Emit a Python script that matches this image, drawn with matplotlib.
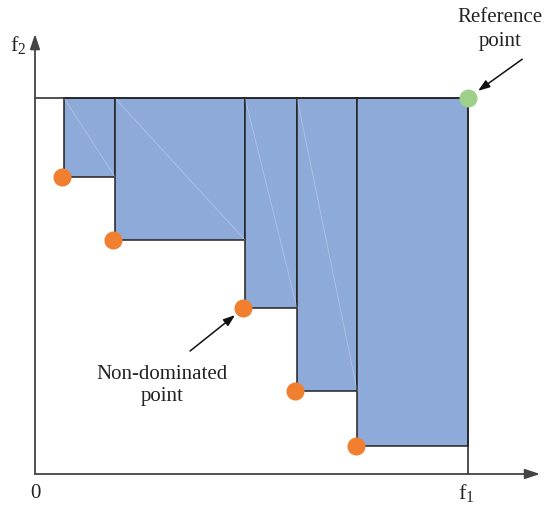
import matplotlib.pyplot as plt
from matplotlib.patches import Rectangle

plt.rcParams['font.family'] = ['Liberation Serif', 'DejaVu Serif']
plt.rcParams['mathtext.default'] = 'regular'

# non-dominated points (f1, f2) and the reference point
f1 = [0.67, 1.85, 4.85, 6.05, 7.44]
f2 = [6.86, 5.40, 3.83, 1.92, 0.65]
ref = (10.0, 8.68)

fill_col = '#8eaad8'
edge_col = '#222222'

fig = plt.figure(figsize=(5.53, 5.06), dpi=100)
ax = fig.add_axes([0, 0, 1, 1])
ax.set_xlim(-0.808, 11.96)
ax.set_ylim(-0.716, 10.97)
ax.axis('off')

# hypervolume boxes
for i in range(len(f1)):
    x0, y0 = f1[i], f2[i]
    x1 = f1[i + 1] if i + 1 < len(f1) else ref[0]
    ax.add_patch(Rectangle((x0, y0), x1 - x0, ref[1] - y0,
                           facecolor=fill_col, edgecolor=edge_col, lw=1.1, zorder=2))
    if i < len(f1) - 1:
        # faint seam lines seen in the original drawing
        ax.plot([x0, x1], [ref[1], y0], color='white', lw=0.6, alpha=0.3, zorder=3)

# top line and right line through reference point
ax.plot([0, ref[0]], [ref[1], ref[1]], color=edge_col, lw=1.1, zorder=3)
ax.plot([ref[0], ref[0]], [0, ref[1]], color=edge_col, lw=1.1, zorder=3)

# axes with arrows
arrow_kw = dict(arrowstyle='-|>,head_length=0.9,head_width=0.3', color='#444444', lw=1.3,
                shrinkA=0, shrinkB=0)
ax.annotate('', xy=(11.66, 0), xytext=(0, 0), arrowprops=arrow_kw, zorder=4)
ax.annotate('', xy=(0, 10.16), xytext=(0, 0), arrowprops=arrow_kw, zorder=4)

# points
ax.plot([x - 0.04 for x in f1], f2, 'o', color='#f07f2f', ms=13, mec='none', zorder=5)
ax.plot([ref[0]], [ref[1]], 'o', color='#9fd08a', ms=13, mec='none', zorder=5)

# labels
ax.text(-0.39, 9.93, '$f_2$', fontsize=16, ha='center', va='center', color='#222222')
ax.text(9.95, -0.42, '$f_1$', fontsize=16, ha='center', va='center', color='#222222')
ax.text(0, -0.42, '0', fontsize=15, ha='center', va='center', color='#222222')

ann_arrow = dict(arrowstyle='-|>,head_length=0.7,head_width=0.25', color='#111111', lw=1.1,
                 shrinkA=0, shrinkB=0)
ax.annotate('', xy=(10.23, 8.85), xytext=(11.25, 9.58), arrowprops=ann_arrow, zorder=6)
ax.text(10.74, 10.28, 'Reference\npoint', fontsize=15, ha='center', va='center',
        linespacing=1.35, color='#222222')
ax.annotate('', xy=(4.62, 3.67), xytext=(3.58, 2.84), arrowprops=ann_arrow, zorder=6)
ax.text(2.93, 2.07, 'Non-dominated\npoint', fontsize=15, ha='center', va='center',
        linespacing=1.25, color='#222222')

fig.savefig('out.png', dpi=100)
